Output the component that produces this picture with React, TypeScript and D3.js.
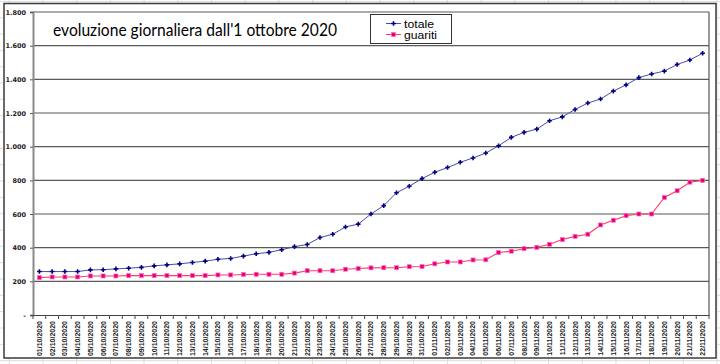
import * as React from "react";
import * as d3 from "d3";

// giorni dal 01/10/2020 al 22/11/2020
const giorni = [
  "01/10/2020", "02/10/2020", "03/10/2020", "04/10/2020", "05/10/2020", "06/10/2020", "07/10/2020",
  "08/10/2020", "09/10/2020", "10/10/2020", "11/10/2020", "12/10/2020", "13/10/2020", "14/10/2020",
  "15/10/2020", "16/10/2020", "17/10/2020", "18/10/2020", "19/10/2020", "20/10/2020", "21/10/2020",
  "22/10/2020", "23/10/2020", "24/10/2020", "25/10/2020", "26/10/2020", "27/10/2020", "28/10/2020",
  "29/10/2020", "30/10/2020", "31/10/2020", "01/11/2020", "02/11/2020", "03/11/2020", "04/11/2020",
  "05/11/2020", "06/11/2020", "07/11/2020", "08/11/2020", "09/11/2020", "10/11/2020", "11/11/2020",
  "12/11/2020", "13/11/2020", "14/11/2020", "15/11/2020", "16/11/2020", "17/11/2020", "18/11/2020",
  "19/11/2020", "20/11/2020", "21/11/2020", "22/11/2020",
];

const totale = [
  258, 258, 258, 258, 268, 269, 274, 278, 283, 292, 298, 304, 312, 320, 331, 336, 350, 364, 372,
  388, 406, 419, 460, 480, 523, 540, 600, 650, 726, 765, 810, 848, 876, 907, 933, 962, 1005, 1055,
  1085, 1104, 1154, 1177, 1221, 1259, 1283, 1330, 1367, 1410, 1432, 1449, 1488, 1515, 1555,
];

const guariti = [
  222, 226, 226, 226, 232, 232, 232, 234, 234, 234, 234, 234, 234, 234, 238, 238, 241, 242, 242,
  242, 249, 263, 263, 263, 272, 276, 280, 281, 281, 287, 288, 304, 315, 315, 327, 328, 371, 379,
  394, 402, 420, 448, 467, 480, 535, 563, 590, 600, 600, 698, 738, 789, 800,
];

const yTicks = [0, 200, 400, 600, 800, 1000, 1200, 1400, 1600, 1800];

const W = 720;
const H = 364;

export default function App() {
  const ref = React.useRef<SVGSVGElement>(null);

  React.useEffect(() => {
    const svg = d3.select(ref.current);
    svg.selectAll("*").remove();

    const left = 33, right = 709, top = 12, bottom = 315;

    // griglia del foglio excel dietro al grafico
    const sheet = svg.append("g");
    for (let x = 43 - 33.7; x < W; x += 33.7) {
      sheet.append("line").attr("x1", x).attr("x2", x).attr("y1", 0).attr("y2", H)
        .attr("stroke", "#dcdcdc").attr("stroke-width", 1);
    }
    for (let y = 1.4; y < H; y += 16.33) {
      sheet.append("line").attr("x1", 0).attr("x2", W).attr("y1", y).attr("y2", y)
        .attr("stroke", "#dcdcdc").attr("stroke-width", 1);
    }

    // area del grafico
    svg.append("rect")
      .attr("x", 4).attr("y", 3.5).attr("width", 712).attr("height", 354.5)
      .attr("fill", "#fff").attr("stroke", "#3a3a3a").attr("stroke-width", 1.5);

    const x = d3.scaleBand().domain(giorni).range([left, right]);
    const y = d3.scaleLinear().domain([0, 1800]).range([bottom, top]);
    const cx = (d: string) => (x(d) as number) + x.bandwidth() / 2;

    const it = d3.formatLocale({ decimal: ",", thousands: ".", grouping: [3], currency: ["€", ""] });
    const fmt = it.format(",");

    // linee orizzontali
    svg.append("g")
      .selectAll("line")
      .data(yTicks.filter((t) => t > 0))
      .enter()
      .append("line")
      .attr("x1", left).attr("x2", right)
      .attr("y1", (d) => y(d)).attr("y2", (d) => y(d))
      .attr("stroke", "#595959").attr("stroke-width", 1.1);

    svg.append("line")
      .attr("x1", right).attr("x2", right).attr("y1", top).attr("y2", bottom)
      .attr("stroke", "#555").attr("stroke-width", 1.2);

    // asse y
    const yAxis = d3.axisLeft(y)
      .tickValues(yTicks)
      .tickSize(3)
      .tickPadding(4)
      .tickFormat((d) => (+d === 0 ? "-" : fmt(+d)));
    const gy = svg.append("g").attr("transform", `translate(${left},0)`).call(yAxis);
    gy.select(".domain").attr("stroke", "#8a8a8a").attr("stroke-width", 2);
    gy.selectAll(".tick line").attr("stroke", "#555");
    gy.selectAll(".tick text")
      .attr("font-family", "'DejaVu Sans', sans-serif")
      .attr("font-size", 6.5)
      .attr("font-weight", "bold")
      .attr("fill", "#222");

    // asse x
    const xAxis = d3.axisBottom(x).tickSize(0).tickPadding(0);
    const gx = svg.append("g").attr("transform", `translate(0,${bottom})`).call(xAxis);
    gx.select(".domain").attr("stroke", "#444").attr("stroke-width", 1.2);
    gx.selectAll(".tick text")
      .attr("transform", "rotate(-90)")
      .attr("text-anchor", "end")
      .attr("x", -6)
      .attr("y", 0)
      .attr("dy", "0.35em")
      .attr("font-family", "'Liberation Sans', Arial, sans-serif")
      .attr("font-size", 7)
      .attr("font-weight", "bold")
      .attr("fill", "#222");
    gx.selectAll(".tick line").remove();
    gx.selectAll("line.sep")
      .data([...giorni.map((d) => x(d) as number), right])
      .enter()
      .append("line")
      .attr("class", "sep")
      .attr("x1", (d) => d).attr("x2", (d) => d)
      .attr("y1", 0).attr("y2", 4)
      .attr("stroke", "#444");

    // serie
    const line = d3.line<number>()
      .x((_, i) => cx(giorni[i]))
      .y((d) => y(d));

    svg.append("path")
      .datum(totale)
      .attr("d", line)
      .attr("fill", "none")
      .attr("stroke", "#4b4ba8")
      .attr("stroke-width", 1);

    svg.append("path")
      .datum(guariti)
      .attr("d", line)
      .attr("fill", "none")
      .attr("stroke", "#ff3d5e")
      .attr("stroke-width", 1.1);

    const plus = (px: number, py: number, s: number) =>
      `M${px - s},${py}H${px + s}M${px},${py - s}V${py + s}`;

    svg.append("g")
      .selectAll("path")
      .data(totale)
      .enter()
      .append("path")
      .attr("d", (d, i) => plus(cx(giorni[i]), y(d), 2.3))
      .attr("stroke", "#000080")
      .attr("stroke-width", 1.6);

    svg.append("g")
      .selectAll("rect")
      .data(guariti)
      .enter()
      .append("rect")
      .attr("x", (d, i) => cx(giorni[i]) - 2)
      .attr("y", (d) => y(d) - 2)
      .attr("width", 4)
      .attr("height", 4)
      .attr("fill", "#e6006e")
      .attr("stroke", "#ff66cc")
      .attr("stroke-width", 0.7);

    // titolo
    svg.append("text")
      .attr("x", 53)
      .attr("y", 36)
      .attr("font-family", "Lato, sans-serif")
      .attr("font-size", 17)
      .attr("textLength", 284)
      .attr("lengthAdjust", "spacingAndGlyphs")
      .attr("fill", "#000")
      .text("evoluzione giornaliera dall'1 ottobre 2020");

    // legenda
    const lg = svg.append("g");
    lg.append("rect")
      .attr("x", 370.5).attr("y", 14.5).attr("width", 81).attr("height", 29)
      .attr("fill", "#fff").attr("stroke", "#333").attr("stroke-width", 1);
    lg.append("line").attr("x1", 386).attr("x2", 401).attr("y1", 23.5).attr("y2", 23.5)
      .attr("stroke", "#4b4ba8");
    lg.append("path").attr("d", plus(393.5, 23.5, 2.3)).attr("stroke", "#000080").attr("stroke-width", 1.6);
    lg.append("line").attr("x1", 386).attr("x2", 401).attr("y1", 34.5).attr("y2", 34.5)
      .attr("stroke", "#ff3d5e");
    lg.append("rect").attr("x", 391.5).attr("y", 32.5).attr("width", 4).attr("height", 4)
      .attr("fill", "#e6006e").attr("stroke", "#ff66cc").attr("stroke-width", 0.7);
    lg.append("text").attr("x", 404).attr("y", 27.5)
      .attr("font-family", "'Liberation Sans', Arial, sans-serif").attr("font-size", 11)
      .attr("textLength", 30).attr("lengthAdjust", "spacingAndGlyphs")
      .text("totale");
    lg.append("text").attr("x", 404).attr("y", 38.5)
      .attr("font-family", "'Liberation Sans', Arial, sans-serif").attr("font-size", 11)
      .attr("textLength", 33).attr("lengthAdjust", "spacingAndGlyphs")
      .text("guariti");
  }, []);

  return (
    <div style={{ position: "absolute", left: 0, top: 0 }}>
      <svg ref={ref} width={W} height={H} style={{ display: "block", background: "#fff" }} />
    </div>
  );
}
